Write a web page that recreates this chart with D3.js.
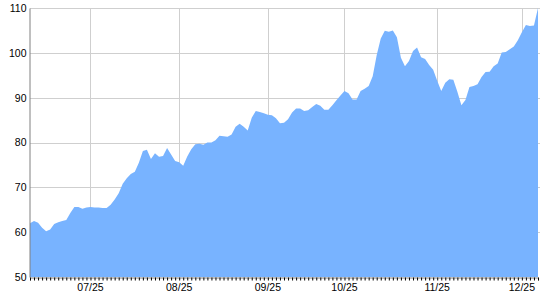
<!DOCTYPE html>
<html>
<head>
<meta charset="utf-8">
<script src="https://cdn.jsdelivr.net/npm/d3@7"></script>
<style>
  body { margin: 0; background: #fff; }
  svg text { font-family: "Liberation Sans", Arial, sans-serif; font-size: 10.5px; fill: #000; }
</style>
</head>
<body>
<div id="chart"></div>
<script>
//Closing values, one per trading day
const values = [
  62.0, 62.5, 62.1, 61.0, 60.2, 60.6, 61.8, 62.2, 62.5, 62.7,
  64.3, 65.6, 65.6, 65.2, 65.5, 65.6, 65.5, 65.5, 65.4, 65.4,
  66.1, 67.3, 68.7, 70.8, 72.0, 73.0, 73.5, 75.5, 78.1, 78.4,
  76.3, 77.6, 76.8, 77.0, 78.8, 77.3, 75.9, 75.6, 74.8, 76.9,
  78.5, 79.6, 79.7, 79.5, 80.0, 80.0, 80.5, 81.5, 81.4, 81.3,
  81.8, 83.5, 84.2, 83.5, 82.7, 85.5, 87.0, 86.8, 86.5, 86.2,
  86.1, 85.4, 84.3, 84.4, 85.2, 86.7, 87.6, 87.6, 87.0, 87.2,
  87.9, 88.6, 88.2, 87.3, 87.3, 88.3, 89.4, 90.5, 91.5, 91.0,
  89.6, 89.6, 91.5, 92.0, 92.6, 94.8, 99.5, 103.2, 104.9, 104.7,
  105.0, 103.5, 98.9, 97.0, 98.2, 100.4, 101.2, 99.0, 98.6, 97.3,
  96.2, 93.8, 91.5, 93.3, 94.1, 94.0, 91.3, 88.3, 89.5, 92.4,
  92.6, 93.0, 94.6, 95.7, 95.8, 97.0, 97.6, 100.1, 100.2, 100.8,
  101.4, 102.8, 104.6, 106.2, 106.0, 106.1, 110.0
];

//First trading day of each month (index into values) and its label
const monthIndex = [15, 37, 59, 78, 101, 122];
const monthLabels = ["07/25", "08/25", "09/25", "10/25", "11/25", "12/25"];

const yTicks = [50, 60, 70, 80, 90, 100, 110];

const width = 540, height = 300;
const margin = {top: 8, right: 2, bottom: 23, left: 30};

const svg = d3.select("#chart").append("svg")
    .attr("width", width)
    .attr("height", height);

const x = d3.scaleLinear()
    .domain([0, values.length - 1])
    .range([margin.left, width - margin.right]);

const y = d3.scaleLinear()
    .domain([50, 110])
    .range([height - margin.bottom, margin.top]);

//Grid
svg.append("g")
    .selectAll("line.h")
    .data(yTicks.slice(1))
    .join("line")
    .attr("x1", margin.left)
    .attr("x2", width)
    .attr("y1", d => Math.round(y(d)) + 0.5)
    .attr("y2", d => Math.round(y(d)) + 0.5)
    .attr("stroke", "#cfcfcf");

svg.append("g")
    .selectAll("line.v")
    .data(monthIndex)
    .join("line")
    .attr("x1", d => Math.round(x(d)) + 0.5)
    .attr("x2", d => Math.round(x(d)) + 0.5)
    .attr("y1", margin.top)
    .attr("y2", height - margin.bottom)
    .attr("stroke", "#cfcfcf");

//Area
const area = d3.area()
    .x((d, i) => x(i))
    .y0(y(50))
    .y1(d => y(d));

svg.append("path")
    .datum(values)
    .attr("d", area)
    .attr("fill", "#78b3ff");

//Left axis
const yAxis = svg.append("g")
    .attr("transform", "translate(" + (margin.left - 0.5) + ",0)")
    .call(d3.axisLeft(y).tickValues(yTicks).tickSize(0).tickPadding(3));
yAxis.select(".domain").attr("stroke", "#808080");
yAxis.selectAll("text").style("font-size", "10.5px").style("font-family", "'Liberation Sans', Arial, sans-serif").attr("fill", "#000");

//Bottom axis: one tick per trading day, labels at month starts
const xAxis = svg.append("g")
    .attr("transform", "translate(0," + (height - margin.bottom + 0.5) + ")")
    .call(d3.axisBottom(x).tickValues(d3.range(values.length)).tickSize(3).tickFormat(""));
xAxis.select(".domain").attr("stroke", "#808080");
xAxis.selectAll(".tick line").attr("stroke", "#000");

svg.append("g")
    .selectAll("text")
    .data(monthIndex)
    .join("text")
    .attr("x", d => x(d))
    .attr("y", height - margin.bottom + 14)
    .attr("text-anchor", "middle")
    .text((d, i) => monthLabels[i]);
</script>
</body>
</html>
